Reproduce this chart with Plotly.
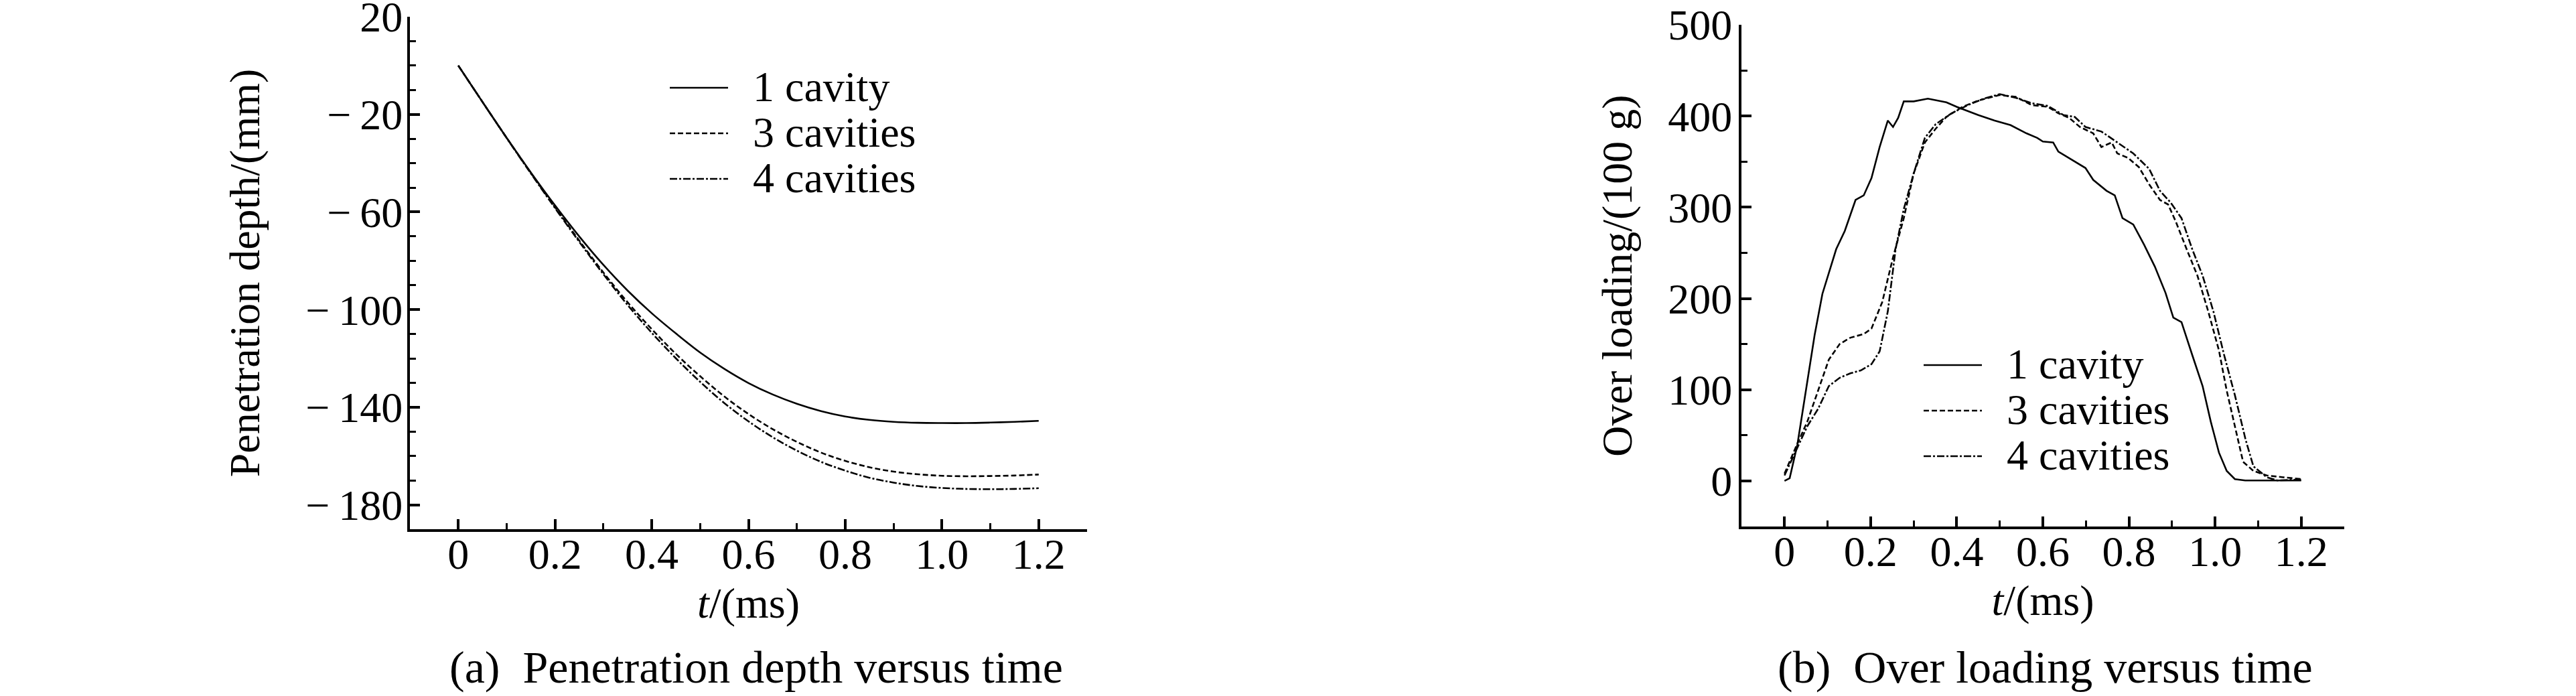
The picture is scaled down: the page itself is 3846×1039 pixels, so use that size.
import plotly.graph_objects as go

# ---------------- data: (a) penetration depth ----------------
t_depth = [0, 0.05, 0.1, 0.15, 0.2, 0.25, 0.3, 0.35, 0.4, 0.45, 0.5, 0.55, 0.6,
           0.65, 0.7, 0.75, 0.8, 0.85, 0.9, 0.95, 1.0, 1.05, 1.1, 1.15, 1.2]
depth_1 = [0, -14.9, -29.6, -43.8, -57.3, -70.0, -81.7, -92.2, -101.5, -109.8, -117.6,
           -124.3, -130.1, -134.8, -138.6, -141.6, -143.8, -145.2, -146.0, -146.4,
           -146.5, -146.5, -146.3, -146.0, -145.6]
depth_3 = [0, -14.9, -29.6, -44.0, -58.0, -71.7, -84.8, -97.0, -108.0, -118.2, -127.3,
           -135.6, -142.8, -149.0, -154.2, -158.6, -162.0, -164.6, -166.4, -167.5,
           -168.1, -168.3, -168.2, -168.0, -167.6]
depth_4 = [0, -14.9, -29.7, -44.2, -58.4, -72.2, -85.5, -98.1, -109.5, -120.0, -129.6,
           -138.3, -145.8, -152.3, -157.8, -162.4, -166.0, -168.9, -170.9, -172.3,
           -173.1, -173.5, -173.6, -173.5, -173.2]

# ---------------- data: (b) over loading ----------------
t_load_1 = [0, 0.012, 0.03, 0.05, 0.07, 0.088, 0.12, 0.14, 0.165, 0.184, 0.202, 0.221,
            0.24, 0.252, 0.264, 0.277, 0.30, 0.333, 0.376, 0.40, 0.45, 0.488, 0.525,
            0.562, 0.587, 0.60, 0.624, 0.636, 0.661, 0.699, 0.717, 0.748, 0.767, 0.785,
            0.81, 0.835, 0.86, 0.885, 0.903, 0.922, 0.947, 0.971, 0.99, 1.009, 1.027,
            1.046, 1.07, 1.2]
load_1 = [0, 3, 40, 100, 160, 205, 254, 274, 308, 313, 332, 366,
          395, 388, 398, 416, 416, 419, 415, 410, 401, 395, 390,
          381, 376, 372, 371, 361, 354, 343, 330, 318, 313, 288,
          281, 259, 235, 206, 179, 174, 138, 104, 65, 31, 11,
          2, 0.5, 0.5]

t_load_3 = [0, 0.029, 0.053, 0.078, 0.103, 0.128, 0.153, 0.184, 0.202, 0.227, 0.252,
            0.277, 0.30, 0.326, 0.351, 0.376, 0.413, 0.45, 0.5, 0.537, 0.574, 0.612,
            0.636, 0.661, 0.686, 0.717, 0.736, 0.76, 0.773, 0.798, 0.823, 0.847, 0.872,
            0.891, 0.909, 0.934, 0.959, 0.984, 1.009, 1.027, 1.046, 1.065, 1.089, 1.12,
            1.158, 1.2]
load_3 = [8, 40, 65, 99, 133, 150, 157, 161, 167, 196, 245,
          288, 337, 371, 386, 399, 410, 417, 423, 421, 412, 410,
          403, 398, 388, 381, 366, 371, 359, 354, 344, 325, 308,
          303, 284, 254, 225, 186, 143, 99, 60, 21, 11, 6,
          4, 2]

t_load_4 = [0, 0.029, 0.053, 0.078, 0.103, 0.128, 0.153, 0.177, 0.202, 0.221, 0.24,
            0.258, 0.277, 0.30, 0.326, 0.351, 0.388, 0.426, 0.463, 0.5, 0.537, 0.574,
            0.612, 0.648, 0.674, 0.699, 0.736, 0.773, 0.81, 0.847, 0.872, 0.897, 0.922,
            0.947, 0.971, 0.996, 1.021, 1.046, 1.071, 1.089, 1.12, 1.145, 1.2]
load_4 = [6, 35, 60, 79, 104, 113, 118, 121, 128, 142, 186,
          254, 298, 337, 376, 391, 403, 412, 419, 424, 420, 414,
          411, 401, 399, 388, 383, 371, 359, 342, 318, 305, 288,
          254, 225, 186, 138, 94, 45, 16, 4, 0.5, 1.5]

series_names = ["1 cavity", "3 cavities", "4 cavities"]
x_ticks = [0, 0.2, 0.4, 0.6, 0.8, 1.0, 1.2]
x_ticktext = ["0", "0.2", "0.4", "0.6", "0.8", "1.0", "1.2"]
depth_ticks = [20, -20, -60, -100, -140, -180]
depth_ticktext = ["20", "\u2212\u200920", "\u2212\u200960", "\u2212\u2009100",
                  "\u2212\u2009140", "\u2212\u2009180"]
load_ticks = [0, 100, 200, 300, 400, 500]

# ---------------- styling ----------------
FONT = "Liberation Serif, Times New Roman, serif"
FS = 64
dashes = ["solid", "8px,4px", "11px,3px,3px,3px"]
W, H = 3846, 1039


def legend_label(name):
    return "<span style='font-size:64px'>\u2002" + name + "</span>"


fig = go.Figure()
for name, y, d in zip(series_names, [depth_1, depth_3, depth_4], dashes):
    fig.add_trace(go.Scatter(x=t_depth, y=y, mode="lines", name=legend_label(name),
                             line=dict(color="black", width=2.6, dash=d, shape="spline"),
                             xaxis="x", yaxis="y", legend="legend"))
for name, tx, y, d in zip(series_names, [t_load_1, t_load_3, t_load_4],
                          [load_1, load_3, load_4], dashes):
    fig.add_trace(go.Scatter(x=tx, y=y, mode="lines", name=legend_label(name),
                             line=dict(color="black", width=2.6, dash=d),
                             xaxis="x2", yaxis="y2", legend="legend2"))

tickfont = dict(family=FONT, size=FS, color="black")
common_axis = dict(showline=True, linewidth=4, linecolor="black", showgrid=False,
                   zeroline=False, ticks="inside", ticklen=15, tickwidth=4,
                   tickcolor="black", tickfont=tickfont, mirror=False, automargin=False,
                   ticklabeloverflow="allow")


def xaxis(domain, anchor):
    return dict(common_axis, domain=domain, anchor=anchor, range=[-0.1, 1.3],
                tickmode="array", tickvals=x_ticks, ticktext=x_ticktext,
                ticklabelstandoff=-22,
                minor=dict(ticks="inside", ticklen=9, tickwidth=3, tickcolor="black",
                           tickmode="linear", tick0=0, dtick=0.1),
                title=dict(text="<i>t</i>/(ms)", font=tickfont, standoff=16))


legend_common = dict(xanchor="left", yanchor="top",
                     font=dict(family=FONT, size=50, color="black"),
                     bgcolor="rgba(0,0,0,0)", borderwidth=0, itemwidth=87)

fig.update_layout(
    width=W, height=H,
    margin=dict(l=0, r=0, t=0, b=0, autoexpand=False),
    paper_bgcolor="white", plot_bgcolor="white",
    font=dict(family=FONT, size=FS, color="black"),
    xaxis=xaxis([612 / W, 1623 / W], "y"),
    yaxis=dict(common_axis, domain=[1 - 790 / H, 1 - 25 / H], anchor="x",
               range=[-190, 20], tickmode="array", tickvals=depth_ticks,
               ticktext=depth_ticktext, ticklabelstandoff=-6,
               minor=dict(ticks="inside", ticklen=9, tickwidth=3, tickcolor="black",
                          tickmode="linear", tick0=0, dtick=10),
               title=dict(text="Penetration depth/(mm)", font=tickfont, standoff=49)),
    xaxis2=xaxis([2600 / W, 3500 / W], "y2"),
    yaxis2=dict(common_axis, domain=[1 - 786 / H, 1 - 37 / H], anchor="x2",
                range=[-50, 500], tickmode="array", tickvals=load_ticks,
                ticklabelstandoff=-3,
                minor=dict(ticks="inside", ticklen=9, tickwidth=3, tickcolor="black",
                           tickmode="linear", tick0=0, dtick=50),
                title=dict(text="Over loading/(100 g)", font=tickfont, standoff=34)),
    legend=dict(legend_common, x=995 / W, y=1 - 92 / H),
    legend2=dict(legend_common, x=2867 / W, y=1 - 506 / H),
    annotations=[
        dict(text="(a)\u00a0\u00a0Penetration depth versus time", xref="paper", yref="paper",
             x=1129 / W, y=1 - 996 / H, xanchor="center", yanchor="middle",
             showarrow=False, font=dict(family=FONT, size=68, color="black")),
        dict(text="(b)\u00a0\u00a0Over loading versus time", xref="paper", yref="paper",
             x=3053 / W, y=1 - 996 / H, xanchor="center", yanchor="middle",
             showarrow=False, font=dict(family=FONT, size=68, color="black")),
    ],
)

fig.write_html("out.html", config={"displayModeBar": False},
               post_script="document.body.style.margin='0';document.body.style.overflow='hidden';")
